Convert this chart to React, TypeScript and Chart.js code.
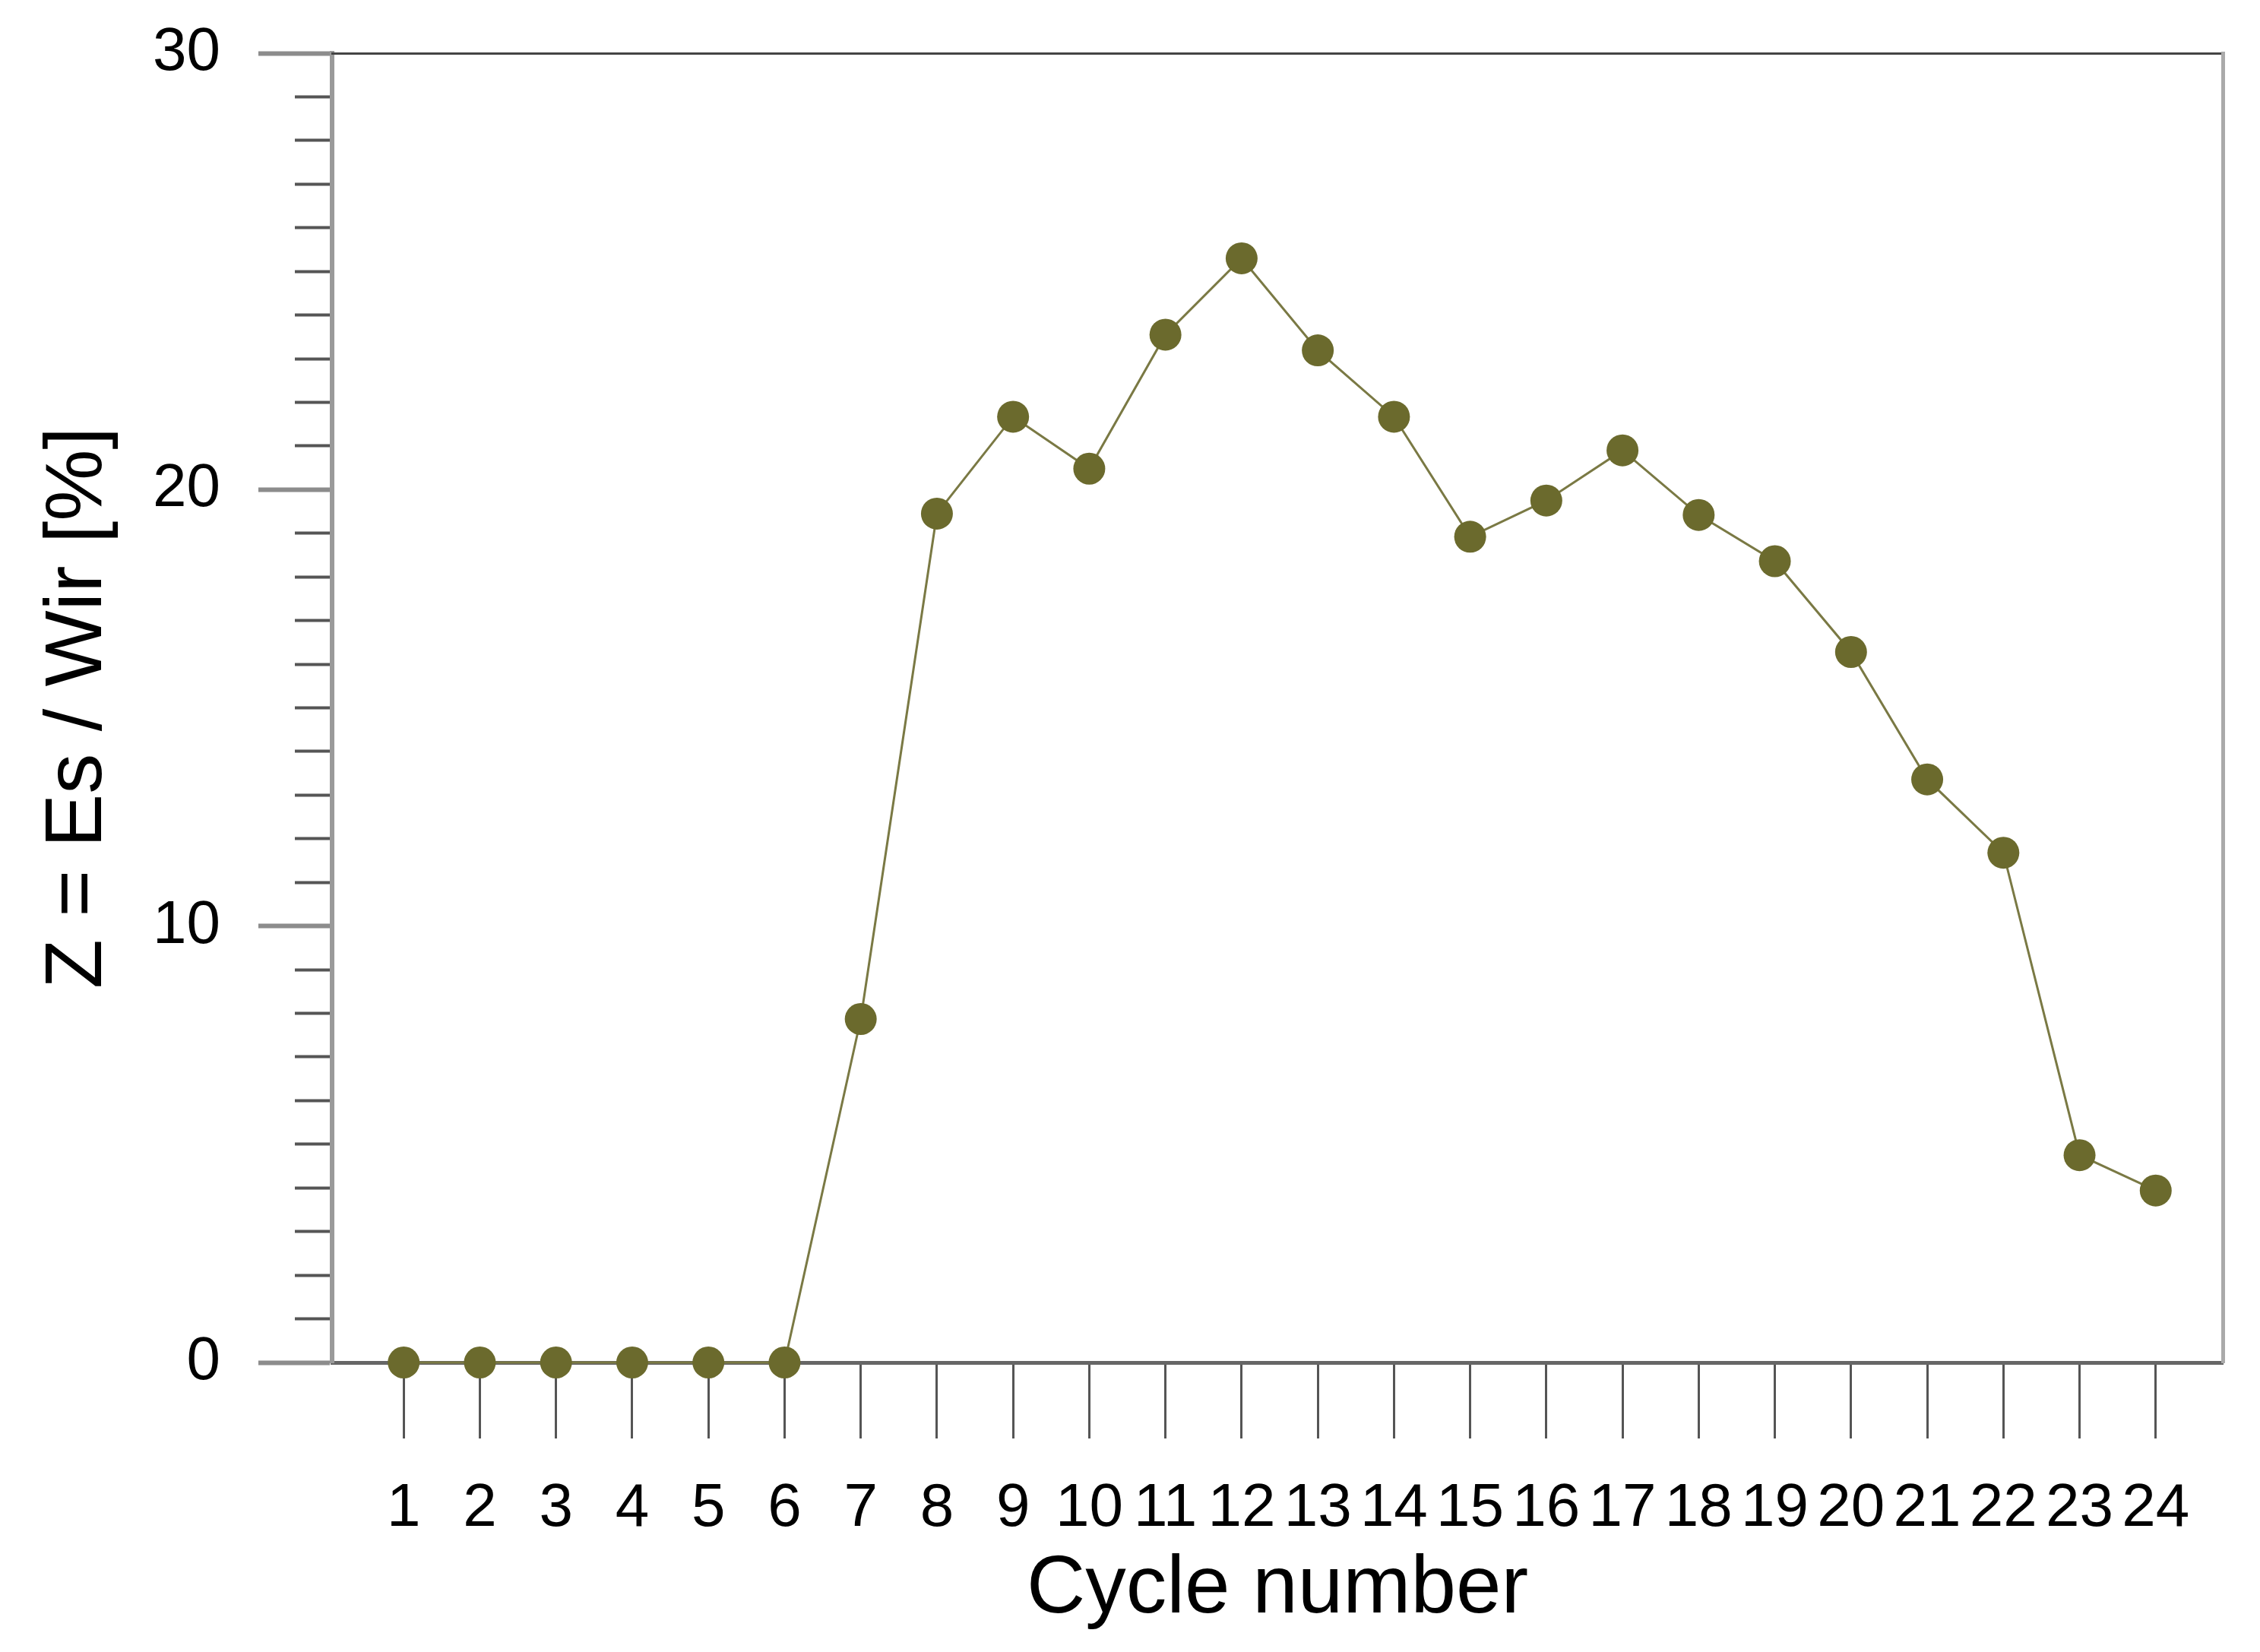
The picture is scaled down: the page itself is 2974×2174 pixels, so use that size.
import { useEffect, useRef } from 'react';
import { Chart, registerables } from 'chart.js';

Chart.register(...registerables);

// ---- data ----
const cycles = [1, 2, 3, 4, 5, 6, 7, 8, 9, 10, 11, 12, 13, 14, 15, 16, 17, 18, 19, 20, 21, 22, 23, 24];
const zValues = [0, 0, 0, 0, 0, 0, 7.87, 19.45, 21.67, 20.48, 23.55, 25.3, 23.19, 21.67, 18.92, 19.75, 20.9, 19.42, 18.36, 16.28, 13.36, 11.68, 4.75, 3.94];
const yMajorTicks = [0, 10, 20, 30];
const xTitle = 'Cycle number';
const yTitle = 'Z = Es / Wir [%]';

const FONT = '"Liberation Sans", Arial, Helvetica, sans-serif';

const zeroPad = (axis: any) => {
  axis.paddingLeft = 0;
  axis.paddingRight = 0;
  axis.paddingTop = 0;
  axis.paddingBottom = 0;
};

const isMajor = (ctx: any) => {
  const v = ctx && ctx.tick ? ctx.tick.value : 0;
  return yMajorTicks.includes(v);
};

export default function App() {
  const ref = useRef<HTMLCanvasElement>(null);

  useEffect(() => {
    if (!ref.current) return;
    Chart.defaults.font.family = FONT;
    const chart = new Chart(ref.current, {
      type: 'line',
      data: {
        datasets: [
          {
            data: cycles.map((c, i) => ({ x: c, y: zValues[i] })),
            borderColor: '#7a7944',
            borderWidth: 3,
            pointRadius: 21,
            pointHoverRadius: 21,
            pointBackgroundColor: '#6b6a2d',
            pointBorderWidth: 0,
            tension: 0,
            clip: false as any,
          },
        ],
      },
      options: {
        animation: false,
        responsive: true,
        maintainAspectRatio: false,
        devicePixelRatio: 1,
        layout: { padding: { top: 62, right: 41, bottom: 0, left: 0 } },
        plugins: {
          legend: { display: false },
          tooltip: { enabled: false },
        },
        events: [],
        scales: {
          x: {
            type: 'linear',
            position: 'bottom',
            min: 0.06,
            max: 24.88,
            afterBuildTicks: (axis: any) => {
              axis.ticks = cycles.map((v) => ({ value: v }));
            },
            ticks: {
              autoSkip: false,
              maxRotation: 0,
              minRotation: 0,
              padding: 45,
              color: '#000',
              font: { family: FONT, size: 80 },
            },
            grid: {
              display: true,
              drawOnChartArea: false,
              drawTicks: true,
              tickLength: 100,
              tickColor: '#555',
              tickWidth: 3,
            },
            border: { display: true, color: '#666', width: 5 },
            title: {
              display: true,
              text: xTitle,
              color: '#000',
              font: { family: FONT, size: 107 },
              padding: { top: 0, bottom: 9 },
            },
            afterFit: (axis: any) => {
              axis.height = 373;
              zeroPad(axis);
            },
          },
          y: {
            type: 'linear',
            position: 'left',
            min: 0,
            max: 30,
            ticks: {
              stepSize: 1,
              autoSkip: false,
              maxTicksLimit: 100,
              padding: 50,
              color: '#000',
              font: { family: FONT, size: 80 },
              callback: (v: any) => (yMajorTicks.includes(Number(v)) ? String(v) : ''),
            },
            grid: {
              display: true,
              drawOnChartArea: false,
              drawTicks: true,
              tickLength: 97,
              tickColor: (ctx: any) => (isMajor(ctx) ? '#8c8c8c' : '#555'),
              tickWidth: (ctx: any) => (isMajor(ctx) ? 6 : 4),
              tickBorderDash: (ctx: any) => (isMajor(ctx) ? [] : [48, 48]),
              tickBorderDashOffset: (ctx: any) => (isMajor(ctx) ? 0 : 48),
            } as any,
            border: { display: true, color: '#9a9a9a', width: 6 },
            title: {
              display: true,
              text: yTitle,
              color: '#000',
              font: { family: FONT, size: 106 },
              padding: { top: 32, bottom: 0 },
            },
            afterFit: (axis: any) => {
              axis.width = 429;
              zeroPad(axis);
            },
          },
          x2: {
            type: 'linear',
            position: 'top',
            min: 0,
            max: 1,
            display: true,
            ticks: { display: false },
            grid: { display: true, drawOnChartArea: false, drawTicks: false },
            border: { display: true, color: '#444', width: 3 },
            afterFit: (axis: any) => {
              axis.height = 0;
              zeroPad(axis);
            },
          },
          y2: {
            type: 'linear',
            position: 'right',
            min: 0,
            max: 1,
            display: true,
            ticks: { display: false },
            grid: { display: true, drawOnChartArea: false, drawTicks: false },
            border: { display: true, color: '#aaa', width: 5 },
            afterFit: (axis: any) => {
              axis.width = 0;
              zeroPad(axis);
            },
          },
        } as any,
      },
    });
    return () => chart.destroy();
  }, []);

  return (
    <div style={{ width: 2958, height: 2158, position: 'relative' }}>
      <canvas ref={ref} />
    </div>
  );
}
